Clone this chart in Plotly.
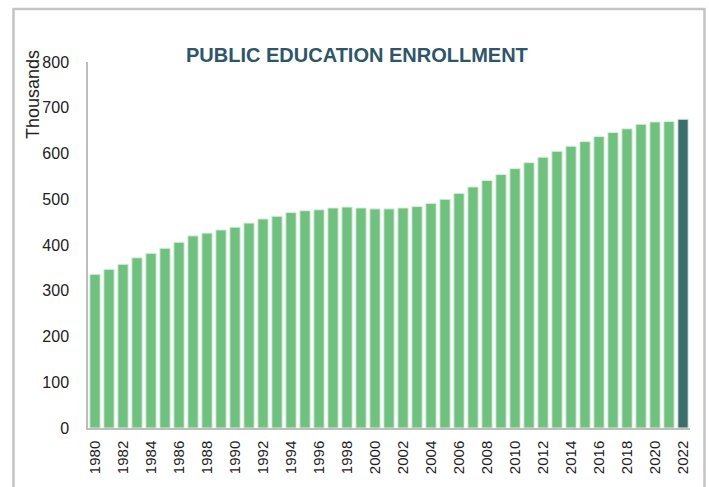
import plotly.graph_objects as go

# Public education enrollment, thousands of students
years = [str(y) for y in range(1980, 2023)]
enrollment = [
    336, 347, 358, 372, 382, 393, 406, 420, 426, 433,
    439, 448, 457, 463, 471, 475, 477, 481, 483, 481,
    479, 479, 481, 484, 491, 500, 513, 527, 541, 554,
    567, 580, 592, 605, 616, 626, 637, 646, 654, 664,
    669, 670, 675,
]
tick_years = [str(y) for y in range(1980, 2023, 2)]
y_ticks = [0, 100, 200, 300, 400, 500, 600, 700, 800]

GREEN = "#70C17F"
TEAL = "#3C6E6E"
colors = [GREEN] * (len(years) - 1) + [TEAL]

W, H = 709, 487
L, R, T, B = 88, 19, 62, 59
pw, ph = W - L - R, H - T - B


def px_to_paper(x, y):
    return (x - L) / pw, (H - B - y) / ph


fig = go.Figure(
    go.Bar(
        x=years,
        y=enrollment,
        marker=dict(color=colors, line=dict(color="#DDF0E1", width=1)),
        width=0.74,
    )
)

x0, y0 = px_to_paper(13.5, 9)
x1, y1 = px_to_paper(704.5, 495)
tx, ty = px_to_paper(33, 95)
hx, hy = px_to_paper(357, 55)

fig.update_layout(
    width=W,
    height=H,
    margin=dict(l=L, r=R, t=T, b=B),
    paper_bgcolor="white",
    plot_bgcolor="white",
    showlegend=False,
    font=dict(family="Liberation Sans, Arial", color="#222222"),
    xaxis=dict(
        type="category",
        tickmode="array",
        tickvals=tick_years,
        ticktext=tick_years,
        tickangle=-90,
        tickfont=dict(size=15, family="Liberation Sans, Arial", color="#222222"),
        showline=True,
        linecolor="#BDBDBD",
        linewidth=1.5,
        showgrid=False,
        ticks="",
        ticklabelstandoff=5,
    ),
    yaxis=dict(
        range=[0, 800],
        tickvals=y_ticks,
        tickfont=dict(size=16, family="Liberation Sans, Arial", color="#222222"),
        showline=True,
        linecolor="#BDBDBD",
        linewidth=1.5,
        showgrid=False,
        zeroline=False,
        ticks="",
        ticklabelstandoff=14,
    ),
    shapes=[
        dict(
            type="rect", xref="paper", yref="paper",
            x0=x0, x1=x1, y0=y1, y1=y0,
            line=dict(color="#C4C4C4", width=2.5),
            fillcolor="rgba(0,0,0,0)",
        )
    ],
    annotations=[
        dict(
            text="<b>PUBLIC EDUCATION ENROLLMENT</b>",
            xref="paper", yref="paper", x=hx, y=hy,
            showarrow=False, xanchor="center", yanchor="middle",
            font=dict(size=20, color="#2E5668", family="Liberation Sans, Arial"),
        ),
        dict(
            text="Thousands",
            xref="paper", yref="paper", x=tx, y=ty,
            showarrow=False, textangle=-90, xanchor="center", yanchor="middle",
            font=dict(size=18, color="#222222", family="Liberation Sans, Arial"),
        ),
    ],
)

fig.write_html("out.html")
